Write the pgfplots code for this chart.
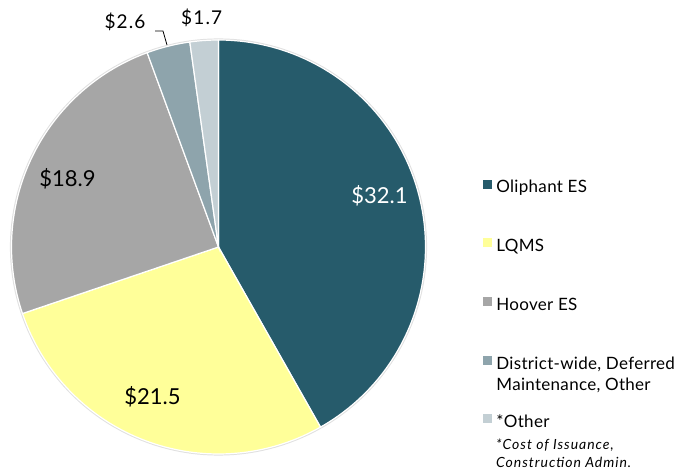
\documentclass[border=0pt]{standalone}
\usepackage{pgfplots}
\pgfplotsset{compat=1.18}
\usepackage{pgfplotstable}
\usepgfplotslibrary{polar}
\usepackage{fontspec}
\setmainfont{Lato}

\definecolor{cOli}{HTML}{265B6B}
\definecolor{cLQ}{HTML}{FFFF99}
\definecolor{cHoo}{HTML}{A6A6A6}
\definecolor{cDis}{HTML}{8EA4AC}
\definecolor{cOth}{HTML}{C3CFD4}

\pgfplotstableread{
name value
Oliphant 32.1
LQMS 21.5
Hoover 18.9
District 2.6
Other 1.7
}\piedata

\newcommand\getval[2]{\pgfplotstablegetelem{#1}{value}\of\piedata\let#2\pgfplotsretval}
\getval{0}\vA \getval{1}\vB \getval{2}\vC \getval{3}\vD \getval{4}\vE
\pgfmathsetmacro\tot{\vA+\vB+\vC+\vD+\vE}
\pgfmathsetmacro\aA{90}
\pgfmathsetmacro\aB{\aA-360*\vA/\tot}
\pgfmathsetmacro\aC{\aB-360*\vB/\tot}
\pgfmathsetmacro\aD{\aC-360*\vC/\tot}
\pgfmathsetmacro\aE{\aD-360*\vD/\tot}
\pgfmathsetmacro\aF{\aE-360*\vE/\tot}

\newcommand\legsq[1]{\addlegendimage{legend image code/.code={\fill[#1] (0bp,1bp) rectangle (8bp,9bp);}}}

\begin{document}
\begin{tikzpicture}
\useasboundingbox (0,0) rectangle (677bp,474bp);
\begin{polaraxis}[
  at={(218.5bp,227bp)}, anchor=center,
  width=414bp, height=414bp, scale only axis,
  hide axis, clip=false,
  ymin=0, ymax=1,
  legend style={at={(1.1389,0.663)}, anchor=north west, draw=none, fill=none,
    inner sep=0pt, outer sep=0pt, row sep=41.25bp, column sep=5bp,
    font=\fontsize{17bp}{21bp}\selectfont\addfontfeatures{LetterSpace=1.8},
    nodes={inner sep=0pt, text height=12.5bp, text depth=4bp}},
  legend cell align=left,
]
\addplot[forget plot, draw=black!12, line width=1.5bp, domain=0:360, samples=181] {1.004};
\addplot[forget plot, fill=cOli, draw=white, line width=1.2bp, domain=\aB:\aA, samples=80] {1} -- (axis cs:0,0) -- cycle;
\addplot[forget plot, fill=cLQ, draw=white, line width=1.2bp, domain=\aC:\aB, samples=60] {1} -- (axis cs:0,0) -- cycle;
\addplot[forget plot, fill=cHoo, draw=white, line width=1.2bp, domain=\aD:\aC, samples=60] {1} -- (axis cs:0,0) -- cycle;
\addplot[forget plot, fill=cDis, draw=white, line width=1.2bp, domain=\aE:\aD, samples=20] {1} -- (axis cs:0,0) -- cycle;
\addplot[forget plot, fill=cOth, draw=white, line width=1.2bp, domain=\aF:\aE, samples=20] {1} -- (axis cs:0,0) -- cycle;
\legsq{cOli}\addlegendentry{Oliphant ES}
\legsq{cLQ}\addlegendentry{LQMS}
\legsq{cHoo}\addlegendentry{Hoover ES}
\legsq{cDis}\addlegendentry{\begin{tabular}[t]{@{}l@{}}District-wide, Deferred\\Maintenance, Other\end{tabular}}
\legsq{cOth}\addlegendentry{*Other}
\end{polaraxis}
% value labels
\node[anchor=base, text=white, font=\fontsize{22bp}{26bp}\selectfont] at (379.5bp,270bp) {\$32.1};
\node[anchor=base, font=\fontsize{22bp}{26bp}\selectfont] at (67.5bp,287.3bp) {\$18.9};
\node[anchor=base, font=\fontsize{22bp}{26bp}\selectfont] at (152.5bp,69bp) {\$21.5};
\node[anchor=base, font=\fontsize{19bp}{22bp}\selectfont\addfontfeatures{LetterSpace=6}] at (125bp,445.7bp) {\$2.6};
\node[anchor=base, font=\fontsize{19bp}{22bp}\selectfont\addfontfeatures{LetterSpace=6}] at (201.7bp,449bp) {\$1.7};
\draw[line width=0.8bp] (155bp,443bp) -- (163bp,443bp) -- (167bp,429bp);
\node[anchor=base west, inner sep=0pt, font=\itshape\fontsize{14bp}{18bp}\selectfont\addfontfeatures{LetterSpace=7}] at (496bp,25bp)
  {\begin{tabular}[t]{@{}l@{}}*Cost of Issuance,\\Construction Admin.\end{tabular}};
\end{tikzpicture}
\end{document}
